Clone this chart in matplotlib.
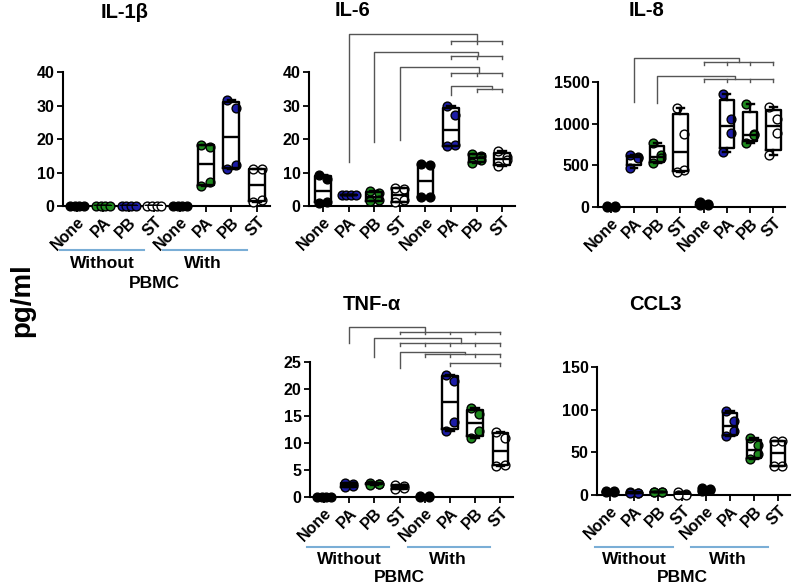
import numpy as np
import matplotlib
matplotlib.use("Agg")
import matplotlib.pyplot as plt
import matplotlib.transforms as mtransforms

plt.rcParams['font.family'] = ['Liberation Sans', 'DejaVu Sans']
plt.rcParams['font.weight'] = 'bold'

W, H = 792, 585

BLUE = '#1c1ca6'
GREEN = '#1e8a1e'

categories = ['None', 'PA', 'PB', 'ST', 'None', 'PA', 'PB', 'ST']
groups = ['Without', 'With']

# pg/ml, four donors per condition
il1b = [[0, 0, 0, 0], [0, 0, 0, 0], [0, 0, 0, 0], [0, 0, 0, 0],
        [0, 0, 0, 0], [18.3, 17.6, 7.3, 6.0], [31.5, 29.2, 12.1, 10.9], [11.1, 10.9, 1.7, 1.3]]
il6 = [[9.2, 8.0, 1.2, 1.0], [3.4, 3.3, 3.3, 3.2], [4.4, 3.9, 1.7, 1.4], [5.5, 5.0, 1.7, 1.2],
       [12.6, 12.3, 2.8, 2.6], [29.8, 27.3, 18.2, 17.9], [15.6, 14.8, 13.7, 12.9], [16.4, 14.6, 13.6, 11.9]]
il8 = [[12, 8, 5, 3], [620, 600, 590, 470], [764, 624, 584, 524], [1190, 880, 450, 420],
       [62, 42, 30, 25], [1356, 1056, 884, 656], [1236, 872, 860, 772], [1196, 1052, 884, 624]]
tnfa = [[0, 0, 0, 0], [2.6, 2.4, 2.0, 1.8], [2.6, 2.5, 2.4, 2.3], [2.2, 2.0, 1.7, 1.5],
        [0.1, 0.1, 0, 0], [22.6, 21.5, 13.8, 12.3], [16.4, 15.3, 12.2, 10.9], [12.1, 10.9, 6.0, 5.8]]
ccl3 = [[5, 4.5, 4, 3], [3.5, 2.5, 2, 2], [4, 4, 3.5, 3], [3, 1, 0.5, 0.3],
        [8, 7, 6, 5], [99, 87, 75, 69], [67, 59, 47.5, 41.7], [63.5, 63, 34.5, 34]]

colors_std = ['black', BLUE, GREEN, 'white', 'black', BLUE, GREEN, 'white']
colors_il1b = ['black', GREEN, BLUE, 'white', 'black', GREEN, BLUE, 'white']

# significance brackets: (left cat, left bottom, top, drop cat, group cats, group y)
il6_brackets = [(1, 13.1, 51.3, 6.0, (5, 6, 7), 49.3),
                (2, 19.1, 46.0, 6.05, (5, 6, 7), 44.8),
                (3, 19.7, 41.5, 6.1, (5, 6, 7), 39.7),
                (5, 33.1, 35.8, 6.6, (6, 7), 34.8)]
il8_brackets = [(1, 1260, 1788, 5.5, (4, 5, 6, 7), 1740),
                (2, 1248, 1572, 5.36, (4, 5, 6, 7), 1536)]
tnfa_brackets = [(1, 28.5, 31.5, 4.0, (3, 4, 5, 6, 7), 30.6),
                 (2, 25.9, 29.4, 5.44, (3, 4, 5, 6, 7), 28.5),
                 (3, 23.9, 26.9, 5.6, (4, 5, 6, 7), 26.4),
                 (None, None, None, None, (5, 7), 24.8)]

# layout in pixels: name, data, colors, ymax, ystep, (left, right, top, bottom), title xy, brackets, tick, groups y
panels = [
    ('IL-1\u03b2', il1b, colors_il1b, 40, 10, (63, 270, 72, 206), (125, 12), [], 0, (250, 263, 283)),
    ('IL-6', il6, colors_std, 40, 10, (309, 515, 72, 206), (352, 11), il6_brackets, 0.9, None),
    ('IL-8', il8, colors_std, 1500, 500, (598, 785, 82, 207), (647, 11), il8_brackets, 36, None),
    ('TNF-\u03b1', tnfa, colors_std, 25, 5, (310, 513, 362, 497), (372, 304), tnfa_brackets, 0.45, (547, 560, 578)),
    ('CCL3', ccl3, colors_std, 150, 50, (597, 790, 367, 495), (655, 304), [], 0, (547, 560, 578)),
]


def quartiles(v):
    v = np.sort(np.asarray(v, dtype=float))
    q1, med, q3 = np.percentile(v, [25, 50, 75], method='weibull')
    return dict(med=med, q1=q1, q3=q3, whislo=v[0], whishi=v[-1], fliers=[])


def jitter(v):
    v = np.asarray(v, dtype=float)
    order = np.argsort(-v)
    offs = np.zeros(len(v))
    spread = np.ptp(v)
    if spread == 0 or spread < 0.06 * abs(v).max():
        pattern = [-0.27, -0.09, 0.09, 0.27]
    else:
        pattern = [-0.17, 0.17, 0.17, -0.17]
    for k, i in enumerate(order):
        offs[i] = pattern[k % 4]
    return offs


def draw_bracket(ax, br, tick):
    left, bottom, top, drop, grp, gy = br
    kw = dict(color='#555555', lw=1.0, clip_on=False)
    if left is not None:
        ax.plot([left, left, drop, drop], [bottom, top, top, gy], **kw)
    ax.plot([min(grp), max(grp)], [gy, gy], **kw)
    for g in grp:
        ax.plot([g, g], [gy, gy - tick], **kw)


fig = plt.figure(figsize=(W / 100, H / 100), dpi=100)

for name, data, cols, ymax, ystep, rect, tpos, brackets, tick, grp_y in panels:
    l, r, t, b = rect
    ax = fig.add_axes([l / W, 1 - b / H, (r - l) / W, (b - t) / H])
    x = np.arange(len(categories))

    for i, vals in enumerate(data):
        ax.scatter(x[i] + jitter(vals), vals, s=40, c=cols[i], edgecolors='black',
                   linewidths=1.0, zorder=3, clip_on=False)

    stats = [quartiles(v) for v in data]
    ax.bxp(stats, positions=x, widths=0.62, showfliers=False, manage_ticks=False,
           capwidths=0.3,
           boxprops=dict(color='black', lw=1.7),
           medianprops=dict(color='black', lw=1.7),
           whiskerprops=dict(color='black', lw=1.7),
           capprops=dict(color='black', lw=1.7), zorder=4)

    for br in brackets:
        draw_bracket(ax, br, tick)

    ax.set_xlim(-0.55, 7.5)
    ax.set_ylim(0, ymax)
    ax.set_yticks(np.arange(0, ymax + 1, ystep))
    ax.set_xticks(x)
    ax.set_xticklabels(categories, rotation=45, ha='right', va='top', rotation_mode='anchor')
    ax.spines[['top', 'right']].set_visible(False)
    ax.spines[['left', 'bottom']].set_linewidth(1.5)
    ax.tick_params(direction='out', length=4, width=1.3, labelsize=11.5, pad=2)
    for lab in ax.get_xticklabels() + ax.get_yticklabels():
        lab.set_fontweight('bold')

    fig.text(tpos[0] / W, 1 - tpos[1] / H, name, ha='center', va='center',
             fontsize=14.5, fontweight='bold')

    if grp_y is not None:
        tr = mtransforms.blended_transform_factory(ax.transData, fig.transFigure)
        ly, ty, py = grp_y
        for start, g in zip((0, 4), groups):
            ax.plot([start - 0.65, start + 2.6], [1 - ly / H, 1 - ly / H], color='#7aaed6',
                    lw=1.5, transform=tr, clip_on=False)
            ax.text(start + 1.0 - (0 if start == 0 else 0.1), 1 - ty / H, g, transform=tr,
                    ha='center', va='center', fontsize=12.5, fontweight='bold')
        ax.text(3.0, 1 - py / H, 'PBMC', transform=tr, ha='center', va='center',
                fontsize=12.5, fontweight='bold')

fig.text(22 / W, 1 - 300 / H, 'pg/ml', rotation=90, ha='center', va='center',
         fontsize=20, fontweight='bold')

fig.savefig('out.png', dpi=100)
